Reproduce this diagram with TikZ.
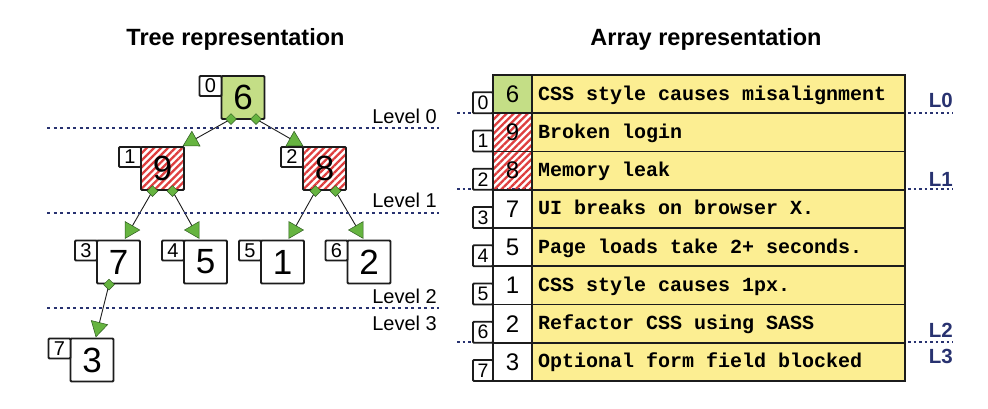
\documentclass[tikz,border=0pt]{standalone}
\usepackage{fontspec}
\setmainfont{Liberation Sans}
\setmonofont{Liberation Mono}
\usetikzlibrary{shapes.geometric,patterns.meta,backgrounds}

\definecolor{ink}{RGB}{28,28,28}
\definecolor{leafgreen}{RGB}{196,222,134}
\definecolor{markgreen}{RGB}{102,180,64}
\definecolor{markline}{RGB}{45,90,30}
\definecolor{hatchred}{RGB}{222,62,62}
\definecolor{navy}{RGB}{40,50,112}
\definecolor{memo}{RGB}{252,238,146}

\newcommand\fsz[1]{\fontsize{#1}{#1}\selectfont}

\tikzset{
  treebox/.style={draw=ink, line width=1.8pt, rounded corners=1pt, outer sep=0pt,
    minimum width=43pt, minimum height=43pt, inner sep=0pt, font=\fsz{35}},
  treeidx/.style={draw=ink, line width=1.8pt, rounded corners=1pt, outer sep=0pt,
    minimum width=22pt, minimum height=20pt, inner sep=0pt, fill=white,
    font=\fsz{20}, anchor=north east},
  rootfill/.style={fill=leafgreen},
  hatched/.style={pattern={Lines[angle=45,distance=5pt,line width=2.3pt]},
    pattern color=hatchred},
  plainfill/.style={fill=white},
  joint/.style={diamond, draw=markline, fill=markgreen, line width=0.5pt,
    minimum size=11pt, inner sep=0pt},
  head/.style={regular polygon, regular polygon sides=3, draw=markline,
    fill=markgreen, line width=0.5pt, minimum size=19.5pt, inner sep=0pt},
  link/.style={draw=ink, line width=0.9pt},
  levelline/.style={draw=navy, line width=1.6pt, dash pattern=on 3pt off 3.5pt},
  leveltext/.style={font=\fsz{20}, anchor=base east, inner sep=0pt},
  arrline/.style={draw=navy, line width=1.5pt, dash pattern=on 2.5pt off 3pt},
  arrlabel/.style={font=\bfseries\fsz{20.5}, text=navy, anchor=base east, inner sep=0pt},
  numcell/.style={draw=ink, line width=1.8pt, outer sep=0pt, minimum width=39pt,
    minimum height=38.25pt, inner sep=0pt, font=\fsz{24}},
  textcell/.style={draw=ink, line width=1.8pt, outer sep=0pt, fill=memo,
    minimum width=373pt, minimum height=38.25pt, inner sep=0pt, anchor=west},
  celltext/.style={anchor=base west, inner sep=0pt, font=\ttfamily\bfseries\fsz{20}},
  cellidx/.style={draw=ink, line width=1.8pt, rounded corners=1pt, outer sep=0pt,
    minimum width=20pt, minimum height=21pt, inner sep=0pt, fill=white,
    font=\fsz{19.5}, anchor=south east},
  title/.style={font=\bfseries\fsz{23.5}, anchor=base, inner sep=0pt},
}

\begin{document}
\begin{tikzpicture}[x=1pt,y=-1pt]
\useasboundingbox (0,0) rectangle (988,408);

% titles
\node[title] (treetitle) at (235.5,45) {Tree representation};
\node[title] (arraytitle) at (706,45) {Array representation};

% ---------- tree ----------
% level separators
\coordinate (lv0a) at (47,128);  \coordinate (lv0b) at (439,128);
\coordinate (lv1a) at (47,213);  \coordinate (lv1b) at (439,213);
\coordinate (lv2a) at (47,308);  \coordinate (lv2b) at (439,308);
\draw[levelline] (lv0a) -- (lv0b);
\draw[levelline] (lv1a) -- (lv1b);
\draw[levelline] (lv2a) -- (lv2b);
\node[leveltext] (lvl0) at (437,123) {Level 0};
\node[leveltext] (lvl1) at (437,207) {Level 1};
\node[leveltext] (lvl2) at (437,303) {Level 2};
\node[leveltext] (lvl3) at (437,330) {Level 3};

% heap nodes
\node[treebox,rootfill]  (n6) at (243,97.5)  {6};
\node[treebox,hatched]   (n9) at (162.5,168.5) {9};
\node[treebox,hatched]   (n8) at (324.5,168.5) {8};
\node[treebox,plainfill] (n7) at (118.5,262) {7};
\node[treebox,plainfill] (n5) at (205.5,262) {5};
\node[treebox,plainfill] (n1) at (282.5,262) {1};
\node[treebox,plainfill] (n2) at (369,262)   {2};
\node[treebox,plainfill] (n3) at (92,360)    {3};

% array positions
\node[treeidx] (i6) at (n6.north west) {0};
\node[treeidx] (i9) at (n9.north west) {1};
\node[treeidx] (i8) at (n8.north west) {2};
\node[treeidx] (i7) at (n7.north west) {3};
\node[treeidx] (i5) at (n5.north west) {4};
\node[treeidx] (i1) at (n1.north west) {5};
\node[treeidx] (i2) at (n2.north west) {6};
\node[treeidx] (i3) at (n3.north west) {7};

% connector start points
\node[joint] (d6a) at ([xshift=-12pt]n6.south) {};
\node[joint] (d6b) at ([xshift=13pt]n6.south) {};
\node[joint] (d9a) at ([xshift=-10pt,yshift=-1pt]n9.south) {};
\node[joint] (d9b) at ([xshift=10pt,yshift=-1pt]n9.south) {};
\node[joint] (d8a) at ([xshift=-9pt,yshift=-1pt]n8.south) {};
\node[joint] (d8b) at ([xshift=11pt,yshift=-1pt]n8.south) {};
\node[joint] (d7)  at ([xshift=-9.5pt,yshift=-1pt]n7.south) {};

% arrow heads
\node[head,rotate=119] (t9) at (191.7,141) {};
\node[head,rotate=241] (t8) at (294.3,141) {};
\node[head,rotate=-90] (t7) at (130,230) {};
\node[head,rotate=90]  (t5) at (194.3,230) {};
\node[head,rotate=-90] (t1) at (293.7,230) {};
\node[head,rotate=90]  (t2) at (358.3,230) {};
\node[head,rotate=166] (t3) at (98.3,327.3) {};

\begin{scope}[on background layer]
  \draw[link] (d6a.center) -- (t9.center);
  \draw[link] (d6b.center) -- (t8.center);
  \draw[link] (d9a.center) -- (t7.center);
  \draw[link] (d9b.center) -- (t5.center);
  \draw[link] (d8a.center) -- (t1.center);
  \draw[link] (d8b.center) -- (t2.center);
  \draw[link] (d7.center)  -- (t3.center);
\end{scope}

% ---------- array ----------
\coordinate (al0a) at (457,113); \coordinate (al0b) at (953,113);
\coordinate (al1a) at (457,189); \coordinate (al1b) at (953,189);
\coordinate (al2a) at (457,342); \coordinate (al2b) at (953,342);
\draw[arrline] (al0a) -- (al0b);
\draw[arrline] (al1a) -- (al1b);
\draw[arrline] (al2a) -- (al2b);
\node[arrlabel] (L0) at (953,107) {L0};
\node[arrlabel] (L1) at (953,186) {L1};
\node[arrlabel] (L2) at (953,337) {L2};
\node[arrlabel] (L3) at (953,363) {L3};

\foreach \v/\txt/\look [count=\i from 0] in {
    6/CSS style causes misalignment/rootfill,
    9/Broken login/hatched,
    8/Memory leak/hatched,
    7/UI breaks on browser X./plainfill,
    5/Page loads take 2+ seconds./plainfill,
    1/CSS style causes 1px./plainfill,
    2/Refactor CSS using SASS/plainfill,
    3/Optional form field blocked/plainfill}{
  \pgfmathsetmacro\yc{75+38.25*\i+19.125}
  \node[numcell,\look] (num\i) at (512.5,\yc) {\v};
  \node[textcell] (txt\i) at (num\i.east) {};
  \node[celltext] (lbl\i) at ([xshift=6pt,yshift=-6pt]txt\i.west) {\txt};
  \node[cellidx] (pos\i) at (num\i.south west) {\i};
}
\end{tikzpicture}
\end{document}
